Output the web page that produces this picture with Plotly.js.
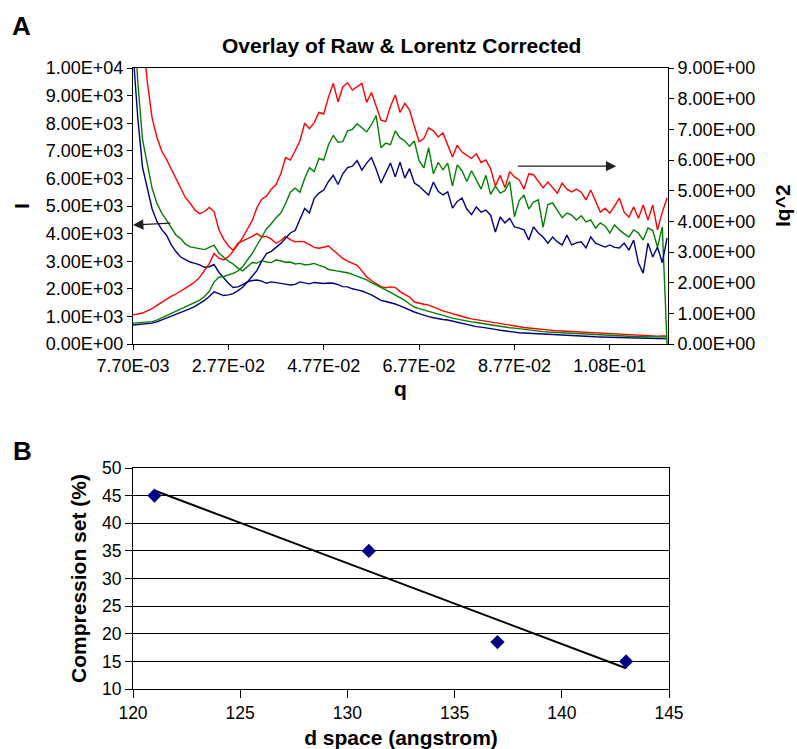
<!DOCTYPE html>
<html><head><meta charset="utf-8">
<script src="https://cdn.plot.ly/plotly-3.0.1.min.js"></script>
<style>html,body{margin:0;padding:0;background:#fff}#chart{width:797px;height:749px}</style>
</head><body><div id="chart"></div>
<script>
// ---------- Panel A data ----------
const q = [
0.0077,0.0087,0.0097,0.0107,0.0117,0.0127,0.0137,0.0147,0.0157,0.0167,
0.0177,0.0187,0.0197,0.0207,0.0217,0.0227,0.0237,0.0247,0.0257,0.0267,
0.0277,0.0287,0.0297,0.0307,0.0317,0.0327,0.0337,0.0347,0.0357,0.0367,
0.0377,0.0387,0.0397,0.0407,0.0417,0.0427,0.0437,0.0447,0.0457,0.0467,
0.0477,0.0487,0.0497,0.0507,0.0517,0.0527,0.0537,0.0547,0.0557,0.0567,
0.0577,0.0587,0.0597,0.0607,0.0617,0.0627,0.0637,0.0647,0.0657,0.0667,
0.0677,0.0687,0.0697,0.0707,0.0717,0.0727,0.0737,0.0747,0.0757,0.0767,
0.0777,0.0787,0.0797,0.0807,0.0817,0.0827,0.0837,0.0847,0.0857,0.0867,
0.0877,0.0887,0.0897,0.0907,0.0917,0.0927,0.0937,0.0947,0.0957,0.0967,
0.0977,0.0987,0.0997,0.1007,0.1017,0.1027,0.1037,0.1047,0.1057,0.1067,
0.1077,0.1087,0.1097,0.1107,0.1117,0.1127,0.1137,0.1147,0.1157,0.1167,
0.1177,0.1187,0.1197];

// Raw intensity I (left axis)
const rawRed = [
16000,13500,11200,9500,8200,7500,7000,6700,6350,5950,
5600,5300,5100,4850,4720,4800,4950,4800,4150,3800,
3550,3400,3650,3750,3820,3900,4000,3880,3900,3800,
3650,3750,3900,3780,3700,3720,3700,3600,3500,3470,
3520,3550,3400,3250,3100,3000,2920,2850,2650,2430,
2300,2180,2080,2040,2070,2050,1900,1800,1700,1520,
1470,1440,1410,1350,1270,1200,1160,1100,1050,990,
950,910,880,850,820,790,760,730,700,670,
650,620,600,580,560,540,520,510,490,475,
470,460,445,430,430,415,400,395,385,370,
360,355,345,340,330,320,310,300,295,290,
285,290,290];
const rawGreen = [
12500,9500,7400,6450,5650,5100,4750,4500,4200,3950,
3820,3620,3520,3480,3450,3420,3500,3580,3300,3150,
3000,2900,2750,2650,2800,2950,2930,3020,2970,2950,
3050,3000,2960,2970,2900,2920,2870,2880,2920,2850,
2800,2700,2680,2640,2610,2580,2520,2450,2400,2320,
2220,2140,2060,1960,1870,1780,1700,1580,1450,1340,
1280,1230,1180,1140,1080,1020,970,940,900,860,
830,800,780,750,720,690,660,640,610,590,
575,550,530,505,490,470,450,435,425,415,
410,400,395,385,380,365,355,345,335,330,
320,310,300,290,280,270,265,260,255,250,
250,245,250];
const rawBlue = [
10600,8200,6400,5600,4900,4450,4150,3950,3600,3350,
3150,3060,2970,2920,2870,2780,2800,2880,2600,2400,
2200,2050,2070,2150,2250,2300,2320,2280,2200,2250,
2230,2200,2170,2140,2160,2250,2220,2180,2230,2200,
2190,2210,2200,2150,2080,2070,2000,1960,1920,1850,
1780,1680,1580,1540,1500,1450,1380,1300,1230,1160,
1100,1040,990,950,910,890,870,830,790,750,
700,660,630,610,590,560,530,500,470,450,
430,410,400,385,370,360,350,340,330,315,
305,295,290,285,280,270,265,260,255,250,
245,240,235,230,225,220,210,205,200,195,
190,185,185];

// Lorentz corrected I*q^2 (right axis)
const lorRed = [
0.95,0.97,1.01,1.08,1.15,1.26,1.36,1.45,1.55,1.63,
1.72,1.82,1.92,2.03,2.18,2.40,2.62,2.95,2.80,2.74,
2.85,3.02,3.25,3.47,3.75,4.02,4.45,4.72,4.82,5.05,
5.20,5.55,6.08,6.00,6.30,6.62,7.20,7.02,7.22,7.55,
7.50,8.05,8.50,7.90,8.38,8.52,8.28,8.40,8.50,7.88,
8.20,7.75,7.30,7.25,7.75,8.12,7.55,7.85,7.63,7.10,
6.60,6.70,7.05,6.95,6.75,6.88,6.50,6.10,6.48,6.26,
6.15,6.05,6.20,5.92,6.00,5.72,5.15,5.50,5.10,5.62,
5.45,5.35,5.05,5.55,5.52,5.30,5.09,5.28,5.10,4.92,
5.25,5.05,4.96,5.05,4.95,4.70,5.02,4.63,4.30,4.43,
4.27,4.50,4.76,4.30,4.14,4.47,4.10,4.53,4.04,4.53,
3.72,4.30,4.76];
const lorGreen = [
0.68,0.69,0.70,0.71,0.73,0.78,0.85,0.93,1.00,1.08,
1.15,1.21,1.28,1.35,1.43,1.55,1.72,2.02,2.18,2.20,
2.24,2.30,2.38,2.52,2.74,2.95,3.22,3.50,3.75,3.92,
4.12,4.27,4.58,4.95,5.08,4.95,5.40,5.75,5.62,6.05,
6.00,6.50,6.80,6.58,6.60,6.95,7.00,7.18,7.04,6.92,
7.15,7.45,6.40,6.55,6.50,6.95,6.72,6.62,6.45,6.62,
5.98,5.74,6.40,5.55,5.92,5.68,5.90,5.15,5.84,5.65,
5.30,5.65,5.35,5.05,5.50,4.88,5.15,4.92,5.00,5.30,
4.15,4.68,4.86,4.40,4.63,4.70,3.80,4.55,4.60,4.37,
4.12,4.27,4.20,4.04,4.18,3.98,4.05,3.78,3.95,3.85,
3.62,3.88,3.72,3.60,3.49,3.72,3.62,3.39,3.78,3.70,
3.16,3.82,0];
const lorBlue = [
0.62,0.63,0.64,0.66,0.68,0.72,0.78,0.83,0.89,0.95,
1.02,1.08,1.15,1.23,1.32,1.42,1.55,1.70,1.64,1.58,
1.60,1.64,1.74,1.85,2.02,2.20,2.40,2.70,2.95,3.02,
3.15,3.28,3.45,3.62,3.70,4.04,4.42,4.27,4.75,4.92,
5.02,5.30,5.50,5.20,5.55,5.75,5.80,5.98,5.67,5.90,
6.08,5.70,5.25,5.58,5.90,5.45,5.93,5.41,5.72,5.25,
5.15,5.00,4.86,5.28,4.98,4.86,4.96,4.43,4.65,4.76,
4.40,4.22,4.47,4.30,4.37,4.20,3.65,4.14,3.95,4.10,
3.82,3.78,3.72,3.39,3.82,3.62,3.49,3.29,3.49,3.33,
3.23,3.55,3.23,3.30,3.33,3.13,3.49,3.29,3.23,3.16,
3.23,3.15,3.13,3.29,3.06,3.39,2.64,2.31,3.29,2.84,
3.16,2.65,3.45];

const qTickVals = [0.0077,0.0277,0.0477,0.0677,0.0877,0.1077];
const qTickText = ["7.70E-03","2.77E-02","4.77E-02","6.77E-02","8.77E-02","1.08E-01"];
const iTickVals = [0,1000,2000,3000,4000,5000,6000,7000,8000,9000,10000];
const iTickText = ["0.00E+00","1.00E+03","2.00E+03","3.00E+03","4.00E+03","5.00E+03","6.00E+03","7.00E+03","8.00E+03","9.00E+03","1.00E+04"];
const iq2TickVals = [0,1,2,3,4,5,6,7,8,9];
const iq2TickText = ["0.00E+00","1.00E+00","2.00E+00","3.00E+00","4.00E+00","5.00E+00","6.00E+00","7.00E+00","8.00E+00","9.00E+00"];

// ---------- Panel B data ----------
const dSpace = [121, 131, 137, 143];
const compressionSet = [45, 35, 18.5, 15];

// least-squares trend line (as the spreadsheet trendline)
const n = dSpace.length;
const mx = dSpace.reduce((a,b)=>a+b,0)/n;
const my = compressionSet.reduce((a,b)=>a+b,0)/n;
let sxy=0, sxx=0;
for(let k=0;k<n;k++){sxy+=(dSpace[k]-mx)*(compressionSet[k]-my);sxx+=(dSpace[k]-mx)**2;}
const slope = sxy/sxx, icpt = my - slope*mx;
const trendX = [Math.min(...dSpace), Math.max(...dSpace)];
const trendY = trendX.map(x=>icpt+slope*x);

// ---------- Layout helpers ----------
const W=797, H=749;
const fx = p => p/W;
const fy = p => 1 - p/H;
const FONT = "Liberation Sans, Arial, sans-serif";
const tickFont = {family:FONT, size:18, color:"#000"};
const titleFont = {family:FONT, size:21, color:"#000", weight:"bold"};

const lineW = 1.4;
const traces = [
  {x:q, y:rawRed,   type:"scatter", mode:"lines", line:{color:"#ff0000", width:lineW}, xaxis:"x", yaxis:"y", name:"I red"},
  {x:q, y:rawGreen, type:"scatter", mode:"lines", line:{color:"#008000", width:lineW}, xaxis:"x", yaxis:"y", name:"I green"},
  {x:q, y:rawBlue,  type:"scatter", mode:"lines", line:{color:"#000080", width:lineW}, xaxis:"x", yaxis:"y", name:"I blue"},
  {x:q, y:lorRed,   type:"scatter", mode:"lines", line:{color:"#ff0000", width:lineW}, xaxis:"x", yaxis:"y2", name:"Iq^2 red"},
  {x:q, y:lorGreen, type:"scatter", mode:"lines", line:{color:"#008000", width:lineW}, xaxis:"x", yaxis:"y2", name:"Iq^2 green"},
  {x:q, y:lorBlue,  type:"scatter", mode:"lines", line:{color:"#000080", width:lineW}, xaxis:"x", yaxis:"y2", name:"Iq^2 blue"},
  {x:trendX, y:trendY, type:"scatter", mode:"lines", line:{color:"#000", width:2}, xaxis:"x2", yaxis:"y3", name:"trend"},
  {x:dSpace, y:compressionSet, type:"scatter", mode:"markers",
   marker:{symbol:"diamond", size:11, color:"#000080", line:{width:0}}, xaxis:"x2", yaxis:"y3", name:"data"}
];

const axBase = {showline:true, linecolor:"#000", linewidth:1, ticks:"outside", ticklen:5, tickcolor:"#000",
  tickwidth:1, showgrid:false, zeroline:false, tickfont:tickFont};

const layout = {
  width:W, height:H, margin:{l:0,r:0,t:0,b:0}, paper_bgcolor:"#fff", plot_bgcolor:"#fff",
  showlegend:false, font:{family:FONT, color:"#000"},
  xaxis: Object.assign({}, axBase, {domain:[fx(133), fx(668)], anchor:"y", range:[0.0077,0.1199],
    tickmode:"array", tickvals:qTickVals, ticktext:qTickText, mirror:true,
    title:{text:"q", font:titleFont, standoff:6}}),
  yaxis: Object.assign({}, axBase, {domain:[fy(344), fy(68)], anchor:"x", range:[0,10000],
    tickmode:"array", tickvals:iTickVals, ticktext:iTickText,
    title:{text:"I", font:titleFont, standoff:10}}),
  yaxis2: Object.assign({}, axBase, {overlaying:"y", side:"right", anchor:"x", range:[0,9],
    tickmode:"array", tickvals:iq2TickVals, ticktext:iq2TickText}),
  xaxis2: Object.assign({}, axBase, {domain:[fx(133), fx(669)], anchor:"y3", range:[120,145], dtick:5,
    tick0:120, mirror:true, ticklen:8, tickfont:{family:FONT,size:17.5,color:"#000"},
    title:{text:"d space (angstrom)", font:titleFont, standoff:9}}),
  yaxis3: Object.assign({}, axBase, {domain:[fy(689), fy(468)], anchor:"x2", range:[10,50], dtick:5,
    tick0:10, mirror:true, showgrid:true, gridcolor:"#000", gridwidth:1, ticklen:7,
    tickfont:{family:FONT,size:17.5,color:"#000"},
    title:{text:"Compression set (%)", font:titleFont, standoff:9}}),
  annotations:[
    {text:"A", x:fx(21), y:fy(26), xref:"paper", yref:"paper", showarrow:false,
     font:{family:FONT, size:26, color:"#000", weight:"bold"}, xanchor:"center", yanchor:"middle"},
    {text:"B", x:fx(22), y:fy(451), xref:"paper", yref:"paper", showarrow:false,
     font:{family:FONT, size:26, color:"#000", weight:"bold"}, xanchor:"center", yanchor:"middle"},
    {text:"Overlay of Raw & Lorentz Corrected", x:fx(401), y:fy(46), xref:"paper", yref:"paper",
     showarrow:false, font:{family:FONT, size:21, color:"#000", weight:"bold"}, xanchor:"center", yanchor:"middle"},
    {text:"Iq^2", x:fx(783), y:fy(206), xref:"paper", yref:"paper", showarrow:false, textangle:-90,
     font:titleFont, xanchor:"center", yanchor:"middle"},
    {text:"", x:0.0077, y:4310, xref:"x", yref:"y", showarrow:true, ax:39, ay:-2,
     arrowhead:2, arrowsize:1.6, arrowwidth:1.3, arrowcolor:"#222", standoff:0},
    {text:"", x:0.10906, y:5.80, xref:"x", yref:"y2", showarrow:true, ax:-100, ay:0,
     arrowhead:2, arrowsize:1.6, arrowwidth:1.3, arrowcolor:"#222", standoff:0}
  ]
};

Plotly.newPlot("chart", traces, layout, {staticPlot:true, displayModeBar:false});
</script>
</body></html>
